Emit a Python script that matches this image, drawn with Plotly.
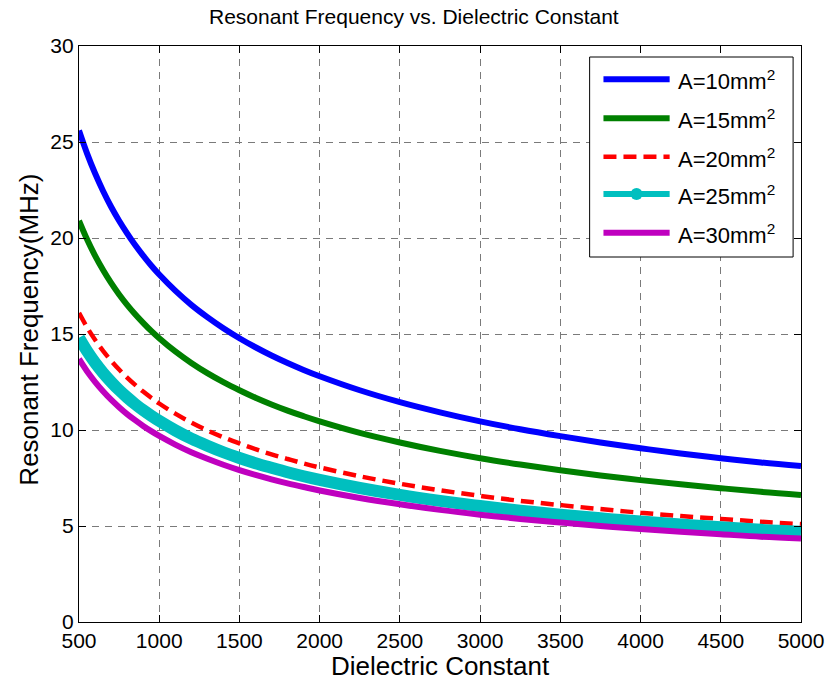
import plotly.graph_objects as go

eps = [500, 550, 600, 650, 700, 750, 800, 850, 900, 950, 1000,
       1100, 1200, 1300, 1400, 1500, 1600, 1700, 1800, 1900, 2000,
       2250, 2500, 2750, 3000, 3250, 3500, 3750, 4000, 4250, 4500, 4750, 5000]

f_a10 = [25.60, 24.41, 23.37, 22.45, 21.63, 20.90, 20.24, 19.63, 19.08, 18.57, 18.10,
         17.26, 16.52, 15.88, 15.30, 14.78, 14.31, 13.88, 13.49, 13.13, 12.80,
         12.07, 11.45, 10.92, 10.45, 10.04, 9.68, 9.35, 9.05, 8.78, 8.53, 8.31, 8.12]
f_a15 = [20.90, 19.93, 19.08, 18.33, 17.66, 17.06, 16.52, 16.03, 15.58, 15.16, 14.78,
         14.09, 13.49, 12.96, 12.49, 12.07, 11.68, 11.33, 11.01, 10.72, 10.45,
         9.85, 9.35, 8.91, 8.53, 8.20, 7.90, 7.63, 7.39, 7.17, 6.97, 6.78, 6.62]
f_a20 = [16.10, 15.35, 14.70, 14.12, 13.61, 13.15, 12.73, 12.35, 12.00, 11.68, 11.38,
         10.85, 10.39, 9.98, 9.62, 9.30, 9.00, 8.73, 8.49, 8.26, 8.05,
         7.59, 7.20, 6.86, 6.57, 6.31, 6.09, 5.88, 5.69, 5.52, 5.37, 5.22, 5.10]
f_a25 = [14.80, 14.11, 13.51, 12.98, 12.51, 12.08, 11.70, 11.35, 11.03, 10.74, 10.47,
         9.98, 9.55, 9.18, 8.84, 8.54, 8.27, 8.03, 7.80, 7.59, 7.40,
         6.98, 6.62, 6.31, 6.04, 5.80, 5.59, 5.40, 5.23, 5.08, 4.93, 4.80, 4.70]
f_a30 = [13.70, 13.06, 12.51, 12.02, 11.58, 11.19, 10.83, 10.51, 10.21, 9.94, 9.69,
         9.24, 8.84, 8.50, 8.19, 7.91, 7.66, 7.43, 7.22, 7.03, 6.85,
         6.46, 6.13, 5.84, 5.59, 5.37, 5.18, 5.00, 4.84, 4.70, 4.57, 4.44, 4.35]

names = ["A=10mm<sup>2</sup>", "A=15mm<sup>2</sup>", "A=20mm<sup>2</sup>",
         "A=25mm<sup>2</sup>", "A=30mm<sup>2</sup>"]
series = [f_a10, f_a15, f_a20, f_a25, f_a30]
colors = ["#0000ff", "#008000", "#ff0000", "#00bfbf", "#bf00bf"]
widths = [6, 6, 4.5, 12, 6]
dashes = ["solid", "solid", "13px,7px", "solid", "solid"]

x_ticks = [500, 1000, 1500, 2000, 2500, 3000, 3500, 4000, 4500, 5000]
y_ticks = [0, 5, 10, 15, 20, 25, 30]

FONT = "Liberation Sans, Arial, Helvetica, sans-serif"

# plot area in pixels
L, R, T, B = 79, 810, 46, 622
W, H = 836, 686


def px_x(p):
    return (p - L) / (R - L)


def px_y(p):
    return (B - p) / (B - T)


fig = go.Figure()
for name, ys, c, w, d in zip(names, series, colors, widths, dashes):
    fig.add_trace(go.Scatter(
        x=eps, y=ys, mode="lines", name=name,
        line=dict(color=c, width=w, dash=d, shape="spline", smoothing=1.0),
        showlegend=False,
    ))

shapes = []
annotations = []

# legend box
shapes.append(dict(type="rect", xref="paper", yref="paper",
                   x0=px_x(596), x1=px_x(802), y0=px_y(257), y1=px_y(57),
                   fillcolor="white", line=dict(color="black", width=1), layer="above"))
row_y = [79.3, 118.3, 156.7, 194, 232.7]
for name, c, w, d, ry in zip(names, colors, widths, dashes, row_y):
    lw = 6 if w > 6 else w
    shapes.append(dict(type="line", xref="paper", yref="paper",
                       x0=px_x(610), x1=px_x(677), y0=px_y(ry), y1=px_y(ry),
                       line=dict(color=c, width=lw, dash=d), layer="above"))
    annotations.append(dict(xref="paper", yref="paper", x=px_x(683), y=px_y(ry + 1),
                            xanchor="left", yanchor="middle", showarrow=False,
                            text=name, font=dict(family=FONT, size=22, color="black")))
# cyan circle marker in legend
cy = row_y[3]
shapes.append(dict(type="circle", xref="paper", yref="paper",
                   xsizemode="pixel", ysizemode="pixel",
                   xanchor=px_x(643.5), yanchor=px_y(cy),
                   x0=-6, x1=6, y0=-6, y1=6,
                   fillcolor="#00bfbf", line=dict(color="#00bfbf", width=0), layer="above"))

# axis titles and title
annotations.append(dict(xref="paper", yref="paper", x=px_x(445), y=px_y(666),
                        xanchor="center", yanchor="middle", showarrow=False,
                        text="Dielectric Constant", font=dict(family=FONT, size=26, color="black")))
annotations.append(dict(xref="paper", yref="paper", x=px_x(28), y=px_y(330),
                        xanchor="center", yanchor="middle", showarrow=False, textangle=-90,
                        text="Resonant Frequency(MHz)", font=dict(family=FONT, size=26, color="black")))
annotations.append(dict(xref="paper", yref="paper", x=px_x(418), y=px_y(17),
                        xanchor="center", yanchor="middle", showarrow=False,
                        text="Resonant Frequency vs. Dielectric Constant",
                        font=dict(family=FONT, size=21, color="black")))

axis_common = dict(
    showline=True, linecolor="black", linewidth=1.2, mirror="allticks",
    ticks="inside", ticklen=7, tickcolor="black", tickwidth=1,
    showgrid=True, gridcolor="#7a7a7a", gridwidth=1, griddash="7px,6px",
    zeroline=False, tickfont=dict(family=FONT, size=21, color="black"),
)

fig.update_layout(
    width=W, height=H,
    margin=dict(l=L, r=W - R, t=T, b=H - B),
    paper_bgcolor="white", plot_bgcolor="white",
    xaxis=dict(range=[500, 5000], tickvals=x_ticks, ticktext=[str(v) for v in x_ticks], **axis_common),
    yaxis=dict(range=[0, 30], tickvals=y_ticks, ticktext=[str(v) for v in y_ticks], **axis_common),
    shapes=shapes, annotations=annotations, showlegend=False,
)

fig.write_html("out.html")
